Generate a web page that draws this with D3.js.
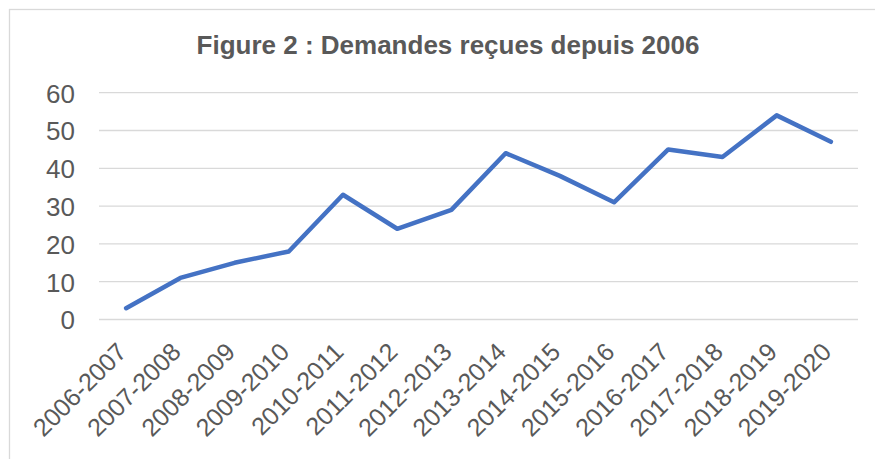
<!DOCTYPE html>
<html>
<head>
<meta charset="utf-8">
<title>Demandes reçues depuis 2006</title>
<style>
    body { margin: 0; background: #fff; font-family: "Liberation Sans", Arial, sans-serif; }
    .axis text { fill: #595959; }
    .grid line { stroke: #d9d9d9; stroke-width: 1.3; }
</style>
</head>
<body>
<script src="https://cdn.jsdelivr.net/npm/d3@7"></script>
<script>
    // data
    var periods = ["2006-2007", "2007-2008", "2008-2009", "2009-2010", "2010-2011",
        "2011-2012", "2012-2013", "2013-2014", "2014-2015", "2015-2016",
        "2016-2017", "2017-2018", "2018-2019", "2019-2020"];
    var demandes = [3, 11, 15, 18, 33, 24, 29, 44, 38, 31, 45, 43, 54, 47];
    var yTicks = [0, 10, 20, 30, 40, 50, 60];

    var width = 875, height = 459;
    var plot = { left: 99, right: 858, top: 92.7, bottom: 319.5 };

    var svg = d3.select("body").append("svg")
        .attr("width", width)
        .attr("height", height);

    // chart frame (only top and left edges are visible in the crop)
    svg.append("rect")
        .attr("x", 9.5).attr("y", 9.5)
        .attr("width", 876).attr("height", 470)
        .attr("fill", "none")
        .attr("stroke", "#d9d9d9")
        .attr("stroke-width", 1.3);

    svg.append("text")
        .attr("x", 448)
        .attr("y", 54)
        .attr("text-anchor", "middle")
        .style("font-size", "26px")
        .style("font-weight", "bold")
        .style("fill", "#595959")
        .text("Figure 2 : Demandes reçues depuis 2006");

    var x = d3.scaleBand()
        .domain(periods)
        .range([plot.left, plot.right]);
    var y = d3.scaleLinear()
        .domain([0, 60])
        .range([plot.bottom, plot.top]);

    // horizontal gridlines
    svg.append("g")
        .attr("class", "grid")
        .selectAll("line")
        .data(yTicks)
        .enter().append("line")
        .attr("x1", plot.left)
        .attr("x2", plot.right)
        .attr("y1", function (d) { return y(d); })
        .attr("y2", function (d) { return y(d); });

    var yAxis = d3.axisLeft(y)
        .tickValues(yTicks)
        .tickSize(0)
        .tickPadding(0);
    svg.append("g")
        .attr("class", "axis")
        .attr("transform", "translate(75,0)")
        .call(yAxis)
        .call(function (g) { g.select(".domain").remove(); })
        .selectAll("text")
        .style("font-size", "26px")
        .style("font-family", "'Liberation Sans', Arial, sans-serif")
        .attr("dy", "0.36em");

    var xAxis = d3.axisBottom(x)
        .tickSize(0)
        .tickPadding(0);
    svg.append("g")
        .attr("class", "axis")
        .attr("transform", "translate(0," + plot.bottom + ")")
        .call(xAxis)
        .call(function (g) { g.select(".domain").remove(); })
        .selectAll("text")
        .style("font-size", "25px")
        .style("font-family", "'Liberation Sans', Arial, sans-serif")
        .style("text-anchor", "end")
        .attr("y", 0)
        .attr("dy", 0)
        .attr("transform", "translate(2,34) rotate(-45)");

    var line = d3.line()
        .x(function (d, i) { return x(periods[i]) + x.bandwidth() / 2; })
        .y(function (d) { return y(d); });

    svg.append("path")
        .datum(demandes)
        .attr("d", line)
        .attr("fill", "none")
        .attr("stroke", "#4472c4")
        .attr("stroke-width", 4.5)
        .attr("stroke-linejoin", "round")
        .attr("stroke-linecap", "round");
</script>
</body>
</html>
